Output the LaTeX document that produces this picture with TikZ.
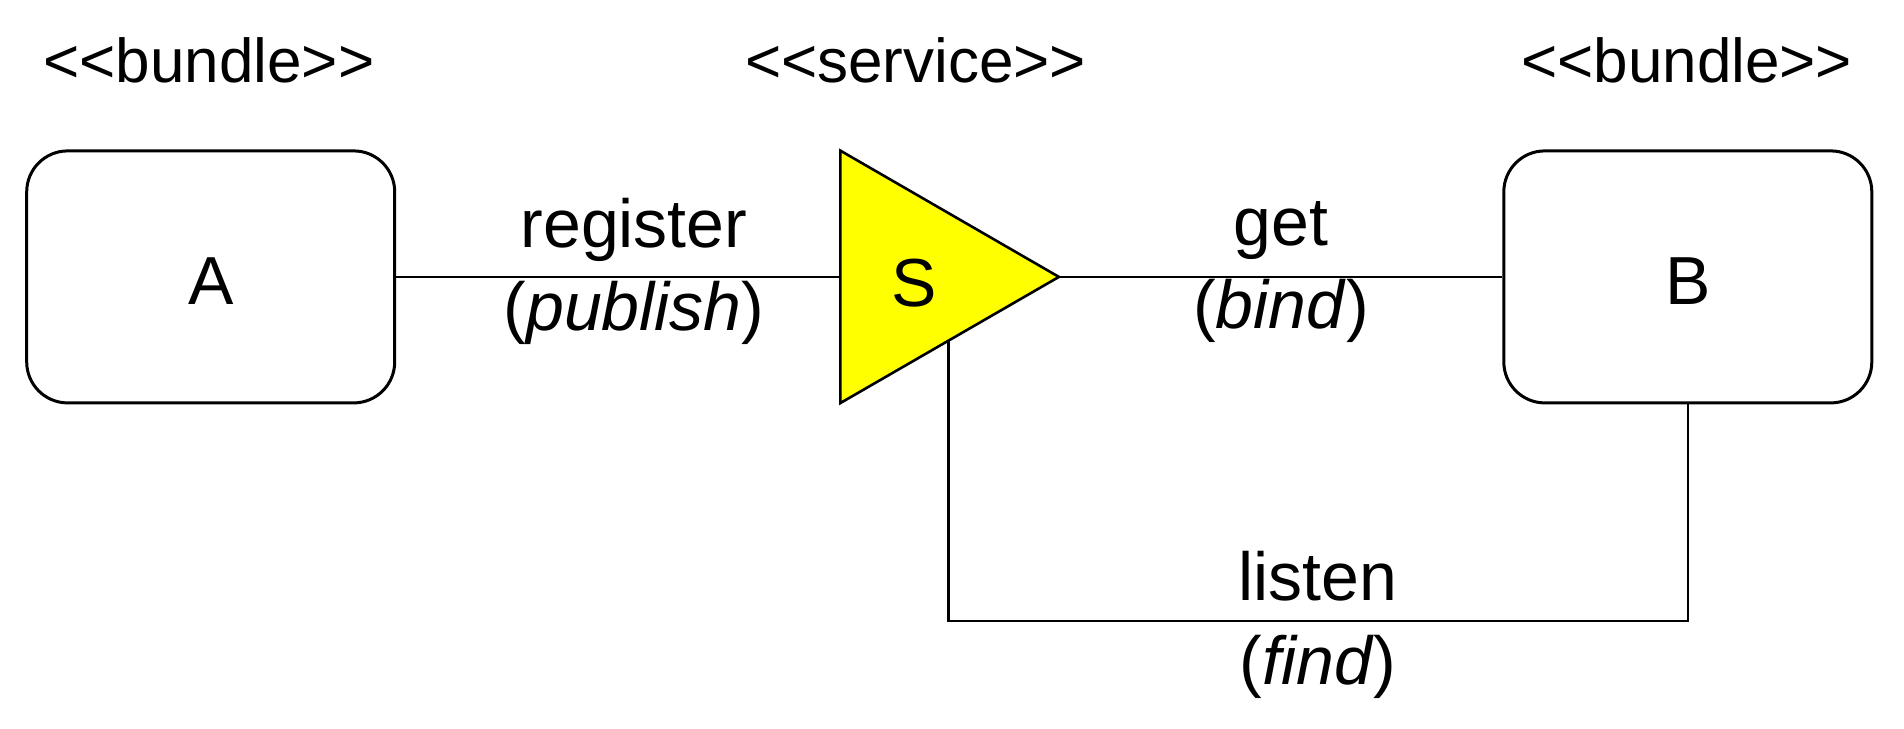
\documentclass[tikz,border=0pt]{standalone}
\usepackage{fontspec}
\setmainfont{Liberation Sans}
\usetikzlibrary{calc}
\definecolor{servyellow}{RGB}{255,255,0}
\begin{document}
\begin{tikzpicture}[x=0.5pt,y=-0.5pt,
  bundlebox/.style={draw=black, line width=1.5pt, rounded corners=20.5pt, fill=white,
    minimum width=184pt, minimum height=126pt, inner sep=0pt,
    text height=28pt, text depth=0pt, font=\fontsize{34}{40}\selectfont},
  stereo/.style={anchor=base, inner sep=0pt, font=\fontsize{31}{37}\selectfont},
  lbl/.style={anchor=base, inner sep=0pt, font=\fontsize{34}{40}\selectfont},
  conn/.style={draw=black, line width=1.3pt},
  service/.style={draw=black, line width=1.3pt, fill=servyellow, line join=miter}]
\useasboundingbox (0,0) rectangle (1904,728);
% bundles
\node[bundlebox] (A) at (210.7,276.9) {A};
\node[bundlebox] (B) at (1687.8,276.9) {B};
% service triangle
\coordinate (Tt) at (840.3,150.6);
\coordinate (Tb) at (840.3,403.1);
\coordinate (Tp) at (1058.9,276.9);
\coordinate (Tin) at (840.3,276.9);
\path[service] (Tt) -- (Tp) -- (Tb) -- cycle;
\node[lbl] (S) at (914,306) {S};
\coordinate (Ledge) at ($(Tb)!0.4945!(Tp)$);
\coordinate (Lb) at (Ledge |- 0,621);
% stereotypes
\node[stereo] (stA) at (208.9,82) {<\kern0pt<bundle>\kern0pt>};
\node[stereo] (stS) at (915.6,82) {<\kern0pt<service>\kern0pt>};
\node[stereo] (stB) at (1686.7,82) {<\kern0pt<bundle>\kern0pt>};
% connectors
\draw[conn] (A.east) -- (Tin);
\draw[conn] (Tp) -- (B.west);
\draw[conn] (Ledge) -- (Lb) -| (B.south);
% labels
\node[lbl] (reg) at (634,247) {register};
\node[lbl] (pub) at (634,330) {(\textit{publish})};
\node[lbl] (get) at (1281,245) {get};
\node[lbl] (bind) at (1281,328) {(\textit{bind})};
\node[lbl] (lis) at (1318,600) {listen};
\node[lbl] (find) at (1318,684) {(\textit{find})};
\end{tikzpicture}
\end{document}
